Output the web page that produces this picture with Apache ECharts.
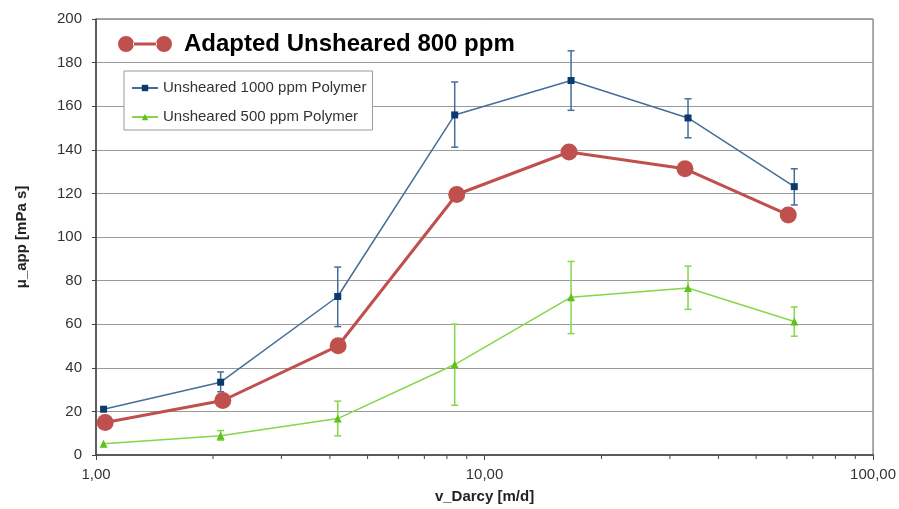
<!DOCTYPE html>
<html>
<head>
<meta charset="utf-8">
<script src="https://cdn.jsdelivr.net/npm/echarts@6/dist/echarts.min.js"></script>
<style>html,body{margin:0;padding:0;background:#fff;}#c{width:899px;height:509px;}</style>
</head>
<body>
<div id="c"></div>
<script>
const xBlueGreen = [1.046, 2.093, 4.19, 8.38, 16.7, 33.4, 62.7];
const xRed = [1.056, 2.12, 4.2, 8.48, 16.5, 32.8, 60.5];
const blue = [21, 33.4, 72.7, 156, 171.8, 154.6, 123.1];
const blueLow = [null, 29, 58.9, 141.2, 158.1, 145.5, 114.7];
const blueHigh = [null, 38.1, 86.2, 171.1, 185.4, 163.4, 131.3];
const red = [14.9, 25, 50.1, 119.5, 139, 131.3, 110.1];
const green = [5.2, 8.8, 16.7, 41.5, 72.4, 76.6, 61.2];
const greenLow = [null, 6.8, 8.8, 22.8, 55.7, 66.8, 54.5];
const greenHigh = [null, 11.2, 24.7, 60, 88.8, 86.6, 67.9];
const minorTickValues = [2, 3, 4, 5, 6, 7, 8, 9, 20, 30, 40, 50, 60, 70, 80, 90];

const FONT = '"Liberation Sans", Arial, sans-serif';
const blueLine = '#466d98', blueMark = '#0b3a6d';
const greenLine = '#86d64c', greenMark = '#5ec21a';
const redC = '#c0504d';

function pairs(xs, ys) { return xs.map((x, i) => [x, ys[i]]); }
function errData(xs, lo, hi) {
  const out = [];
  xs.forEach((x, i) => { if (lo[i] != null) out.push([x, lo[i], hi[i]]); });
  return out;
}
function errRender(color) {
  return function (params, api) {
    const x = api.value(0);
    const p1 = api.coord([x, api.value(1)]);
    const p2 = api.coord([x, api.value(2)]);
    const w = 3.5;
    const st = { stroke: color, lineWidth: 1.5 };
    return {
      type: 'group',
      children: [
        { type: 'line', shape: { x1: p1[0], y1: p1[1], x2: p2[0], y2: p2[1] }, style: st },
        { type: 'line', shape: { x1: p1[0] - w, y1: p1[1], x2: p1[0] + w, y2: p1[1] }, style: st },
        { type: 'line', shape: { x1: p2[0] - w, y1: p2[1], x2: p2[0] + w, y2: p2[1] }, style: st }
      ]
    };
  };
}

const redIcon = 'path://M0,8a8,8 0 1,0 16,0a8,8 0 1,0 -16,0Z M15,6.6L39,6.6L39,9.4L15,9.4Z M38,8a8,8 0 1,0 16,0a8,8 0 1,0 -16,0Z';

const chart = echarts.init(document.getElementById('c'), null, { renderer: 'canvas' });
chart.setOption({
  animation: false,
  backgroundColor: '#fff',
  textStyle: { fontFamily: FONT },
  grid: { left: 96, right: 25, top: 19, bottom: 51, show: true, borderColor: '#555', borderWidth: 1, backgroundColor: 'transparent' },
  legend: [
    {
      data: [{ name: 'Adapted Unsheared 800 ppm', icon: redIcon, itemStyle: { color: redC } }],
      left: 118, top: 32, padding: 0,
      itemWidth: 54, itemHeight: 16,
      textStyle: { fontFamily: FONT, fontSize: 24, fontWeight: 'bold', color: '#000', padding: [0, 0, 0, 7], lineHeight: 24 }
    },
    {
      data: ['Unsheared 1000 ppm Polymer', 'Unsheared 500 ppm Polymer'],
      orient: 'vertical',
      left: 124, top: 71,
      padding: [9, 6, 5, 7],
      itemGap: 13,
      itemWidth: 26, itemHeight: 8,
      borderColor: '#999', borderWidth: 1, backgroundColor: '#fff',
      textStyle: { fontFamily: FONT, fontSize: 15, color: '#333', lineHeight: 16 }
    }
  ],
  xAxis: {
    type: 'log', logBase: 10, min: 1, max: 100,
    name: 'v_Darcy [m/d]', nameLocation: 'middle', nameGap: 34,
    nameTextStyle: { fontFamily: FONT, fontSize: 15, fontWeight: 'bold', color: '#222' },
    axisLine: { show: true, lineStyle: { color: '#444', width: 1.5 } },
    axisTick: { show: true, length: 5, lineStyle: { color: '#444', width: 1 } },
    axisLabel: { fontFamily: FONT, fontSize: 15, color: '#333', margin: 12,
      formatter: v => Number(v).toFixed(2).replace('.', ',') },
    splitLine: { show: false }
  },
  yAxis: {
    type: 'value', min: 0, max: 200, interval: 20,
    name: 'μ_app [mPa s]', nameLocation: 'middle', nameGap: 67,
    nameTextStyle: { fontFamily: FONT, fontSize: 15, fontWeight: 'bold', color: '#222' },
    axisLine: { show: true, lineStyle: { color: '#444', width: 1.5 } },
    axisTick: { show: true, length: 4, lineStyle: { color: '#444', width: 1 } },
    axisLabel: { fontFamily: FONT, fontSize: 15, color: '#333', margin: 14 },
    splitLine: { show: true, lineStyle: { color: '#9a9a9a', width: 1.2 } }
  },
  series: [
    {
      name: 'Unsheared 1000 ppm Polymer', type: 'line', data: pairs(xBlueGreen, blue),
      symbol: 'rect', symbolSize: 7, z: 3,
      lineStyle: { color: blueLine, width: 1.5 }, itemStyle: { color: blueMark }
    },
    {
      name: 'Unsheared 500 ppm Polymer', type: 'line', data: pairs(xBlueGreen, green),
      symbol: 'triangle', symbolSize: 8, z: 3,
      lineStyle: { color: greenLine, width: 1.5 }, itemStyle: { color: greenMark }
    },
    {
      name: 'Adapted Unsheared 800 ppm', type: 'line', data: pairs(xRed, red),
      symbol: 'circle', symbolSize: 17, z: 5,
      lineStyle: { color: redC, width: 3 }, itemStyle: { color: redC }
    },
    { type: 'custom', name: 'errBlue', data: errData(xBlueGreen, blueLow, blueHigh), renderItem: errRender(blueLine), z: 2, silent: true },
    { type: 'custom', name: 'errGreen', data: errData(xBlueGreen, greenLow, greenHigh), renderItem: errRender(greenLine), z: 2, silent: true },
    {
      type: 'custom', name: 'minorTicks', data: minorTickValues.map(v => [v, 0]), clip: false, silent: true, z: 1,
      renderItem: function (params, api) {
        const p = api.coord([api.value(0), 0]);
        return { type: 'line', shape: { x1: p[0], y1: p[1], x2: p[0], y2: p[1] + 4 }, style: { stroke: '#444', lineWidth: 1 } };
      }
    }
  ]
});
</script>
</body>
</html>
